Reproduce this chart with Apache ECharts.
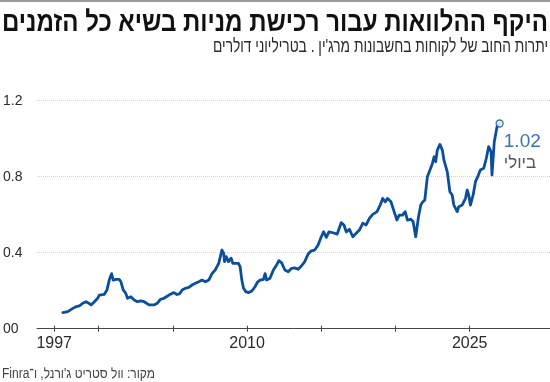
<!DOCTYPE html>
<html>
<head>
<meta charset="utf-8">
<script src="https://cdn.jsdelivr.net/npm/echarts@6/dist/echarts.min.js"></script>
<style>
html,body{margin:0;padding:0;background:#fff;}
#chart{width:550px;height:382px;}
</style>
</head>
<body>
<div id="chart" dir="rtl"></div>
<script>
// ---- data (decimal years, trillions of dollars) ----
const dates = [
1997.00,1997.32,1997.65,1997.86,1998.08,1998.30,1998.51,1998.69,1998.84,1999.06,
1999.27,1999.38,1999.71,1999.88,2000.03,2000.18,2000.29,2000.46,2000.68,2000.79,
2000.94,2001.11,2001.22,2001.44,2001.66,2001.87,2002.08,2002.31,2002.63,2002.95,
2003.17,2003.38,2003.60,2003.93,2004.25,2004.45,2004.64,2004.79,2005.01,2005.23,
2005.44,2005.66,2005.88,2006.09,2006.31,2006.53,2006.74,2006.95,2007.18,2007.39,
2007.50,2007.56,2007.67,2007.82,2007.99,2008.10,2008.25,2008.47,2008.58,2008.69,
2008.80,2008.95,2009.12,2009.34,2009.55,2009.73,2009.88,2010.10,2010.21,2010.31,
2010.53,2010.75,2010.96,2011.11,2011.29,2011.50,2011.72,2011.94,2012.15,2012.37,
2012.58,2012.80,2013.02,2013.23,2013.45,2013.67,2013.88,2014.03,2014.21,2014.38,
2014.64,2014.92,2015.18,2015.36,2015.51,2015.72,2015.94,2016.16,2016.37,2016.59,
2016.81,2017.02,2017.24,2017.52,2017.73,2017.89,2018.06,2018.21,2018.43,2018.64,
2018.82,2018.97,2019.19,2019.36,2019.51,2019.73,2019.88,2020.05,2020.23,2020.38,
2020.49,2020.64,2020.81,2020.98,2021.14,2021.25,2021.35,2021.46,2021.63,2021.79,
2021.89,2022.11,2022.28,2022.43,2022.54,2022.76,2022.86,2023.08,2023.30,2023.41,
2023.51,2023.62,2023.80,2023.95,2024.10,2024.27,2024.49,2024.66,2024.81,2024.97,
2025.03,2025.18,2025.36,2025.53
];
const values = [
0.085,0.090,0.107,0.116,0.120,0.134,0.142,0.134,0.125,0.142,
0.160,0.177,0.181,0.204,0.256,0.290,0.256,0.260,0.260,0.247,
0.204,0.186,0.160,0.168,0.151,0.142,0.146,0.142,0.125,0.125,
0.134,0.155,0.160,0.177,0.190,0.180,0.185,0.204,0.213,0.218,
0.230,0.239,0.247,0.256,0.247,0.256,0.290,0.309,0.344,0.414,
0.397,0.353,0.379,0.353,0.371,0.344,0.344,0.344,0.326,0.256,
0.213,0.195,0.190,0.198,0.221,0.247,0.256,0.260,0.290,0.256,
0.265,0.309,0.335,0.358,0.347,0.309,0.300,0.318,0.320,0.313,
0.330,0.353,0.393,0.410,0.414,0.440,0.484,0.510,0.481,0.510,
0.505,0.498,0.558,0.546,0.510,0.523,0.484,0.502,0.519,0.555,
0.546,0.581,0.602,0.616,0.651,0.686,0.668,0.686,0.668,0.616,
0.572,0.598,0.598,0.616,0.572,0.576,0.563,0.484,0.589,0.651,
0.665,0.677,0.800,0.835,0.870,0.905,0.879,0.940,0.970,0.940,
0.888,0.826,0.721,0.704,0.651,0.616,0.642,0.651,0.686,0.730,
0.704,0.651,0.704,0.774,0.800,0.835,0.844,0.897,0.958,0.932,
0.809,0.984,1.063,1.080
];
const yTickValues = [0, 0.4, 0.8, 1.2];
const yTickLabels = ['00', '0.4', '0.8', '1.2'];
const xTickYears = [1997, 2000, 2005, 2010, 2015, 2020, 2025];
const xLabelYears = [1997, 2010, 2025];
const endValueText = '1.02';
const endMonthText = 'ביולי';
const titleText = 'היקף ההלוואות עבור רכישת מניות בשיא כל הזמנים';
const subtitleText = "יתרות החוב של לקוחות בחשבונות מרג'ין . בטריליוני דולרים";
const sourceText = "מקור: וול סטריט ג'ורנל, ו־Finra";

// ---- styling ----
const BLUE = '#0a4e9c';
const FONT = "'Liberation Sans Narrow','Liberation Sans',sans-serif";
const TITLE_FONT = "bold 28px " + FONT;
const SUB_FONT = "19px " + FONT;
const SRC_FONT = "14px " + FONT;

// condense text horizontally to the reference widths
const mctx = document.createElement('canvas').getContext('2d');
function widthOf(txt, font) { mctx.font = font; return mctx.measureText(txt).width; }
const titleScale = Math.min(1, 546 / widthOf(titleText, TITLE_FONT));
const subScale = Math.min(1, 335 / widthOf(subtitleText, SUB_FONT));
const srcScale = Math.min(1, 153 / widthOf(sourceText, SRC_FONT));

const lineData = dates.map((d, i) => [d, values[i]]);
const last = lineData[lineData.length - 1];

const chart = echarts.init(document.getElementById('chart'), null, {renderer: 'canvas'});
chart.setOption({
  animation: false,
  backgroundColor: '#fff',
  grid: [
    {left: 34, right: 0, top: 100.7, bottom: 53.3},
    {left: 34, right: 0, top: 100.7, bottom: 56.3}
  ],
  xAxis: [
    {
      type: 'value', gridIndex: 0, min: 1995.31, max: 2028.82,
      axisLine: {show: true, lineStyle: {color: '#444', width: 1}},
      axisTick: {show: false}, axisLabel: {show: false}, splitLine: {show: false}
    },
    {
      type: 'value', gridIndex: 1, min: 1995.64, max: 2030.41,
      axisLine: {show: false},
      axisTick: {show: true, length: 6, customValues: xTickYears, lineStyle: {color: '#444', width: 1}},
      axisLabel: {show: true, customValues: xLabelYears, formatter: v => String(Math.round(v)),
        color: '#2a2a2a', fontSize: 16, fontFamily: FONT, margin: 10},
      splitLine: {show: false}
    }
  ],
  yAxis: [
    {
      type: 'value', gridIndex: 0, min: 0, max: 1.2, interval: 0.4,
      axisLine: {show: false}, axisTick: {show: false},
      axisLabel: {
        color: '#2a2a2a', fontSize: 14, fontFamily: FONT, margin: 34, align: 'left',
        formatter: v => { const i = yTickValues.findIndex(t => Math.abs(t - v) < 1e-6); return i >= 0 ? yTickLabels[i] : ''; }
      },
      splitLine: {show: true, lineStyle: {color: '#d4d4d4', type: 'dotted', width: 1}}
    },
    {
      type: 'value', gridIndex: 1, min: 0, max: 1.2, show: false
    }
  ],
  series: [
    {
      type: 'line', xAxisIndex: 0, yAxisIndex: 0, data: lineData,
      showSymbol: false, smooth: false,
      lineStyle: {color: BLUE, width: 2.8, join: 'round', cap: 'round'},
      z: 3
    },
    {
      type: 'scatter', xAxisIndex: 0, yAxisIndex: 0, data: [last],
      symbol: 'circle', symbolSize: 7,
      itemStyle: {color: '#fff', borderColor: BLUE, borderWidth: 1.3},
      label: {
        show: true, position: 'right', distance: 0, offset: [0, 29],
        formatter: '{a|' + endValueText + '}\n{b|' + endMonthText + '}',
        rich: {
          a: {color: BLUE, fontSize: 19, fontFamily: FONT, lineHeight: 22, align: 'left'},
          b: {color: '#2a2a2a', fontSize: 17, fontFamily: FONT, lineHeight: 22, align: 'left'}
        }
      },
      z: 5
    }
  ],
  graphic: [
    {type: 'rect', shape: {x: 0, y: 0, width: 550, height: 2}, style: {fill: '#9a9a9a'}},
    {type: 'text', x: 548, y: 23, scaleX: titleScale, style: {text: titleText, fill: '#111', font: TITLE_FONT, align: 'right', verticalAlign: 'middle'}},
    {type: 'text', x: 548, y: 47, scaleX: subScale, style: {text: subtitleText, fill: '#2a2a2a', font: SUB_FONT, align: 'right', verticalAlign: 'middle'}},
    {type: 'text', x: 2, y: 374, scaleX: srcScale, style: {text: sourceText, fill: '#444', font: SRC_FONT, align: 'left', verticalAlign: 'middle'}}
  ]
});
</script>
</body>
</html>
